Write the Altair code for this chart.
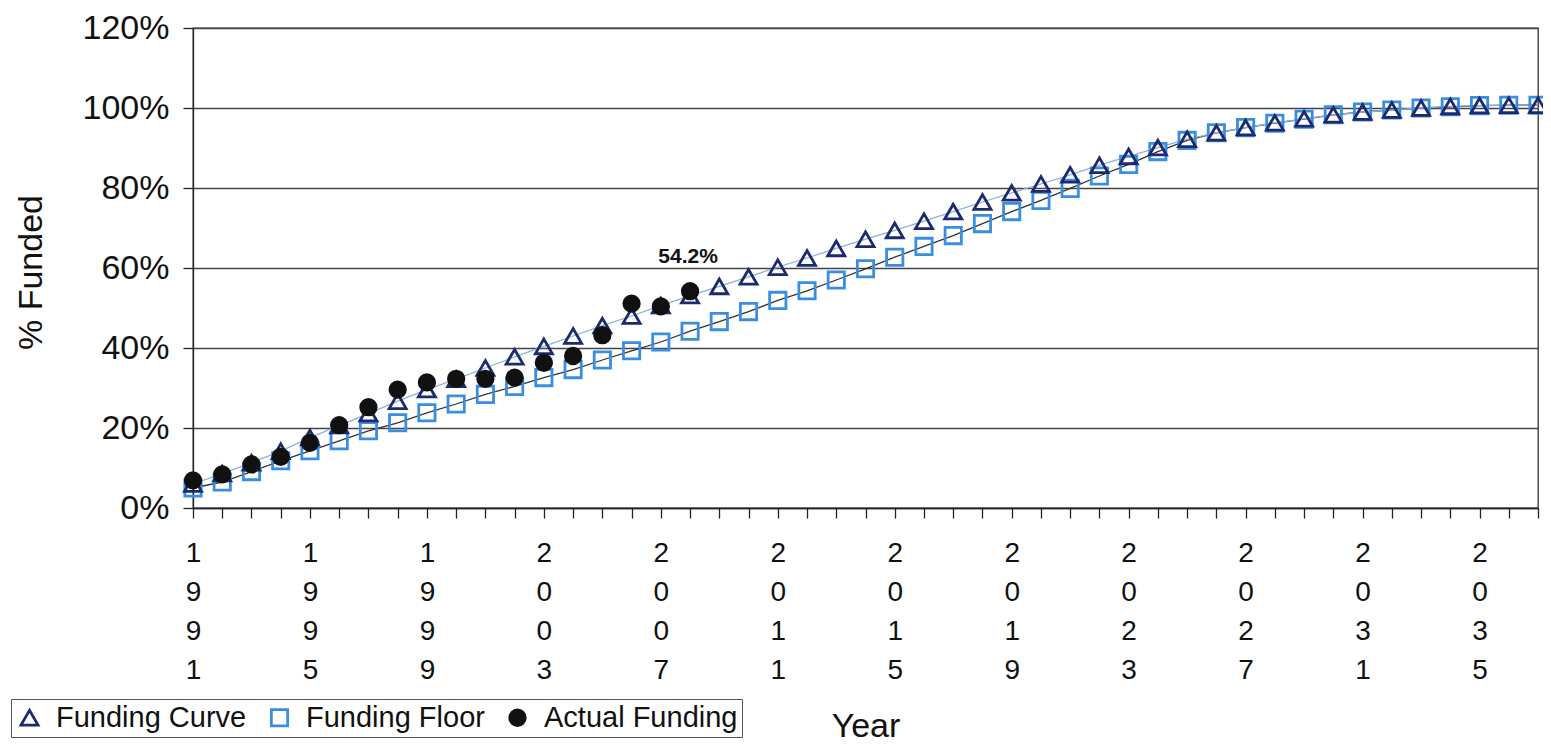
import altair as alt
import pandas as pd

years = list(range(1991, 2038))
funding_curve = [6.0, 8.6, 11.3, 14.2, 17.6, 20.6, 23.6, 26.7, 29.6, 32.2,
                 35.0, 37.8, 40.4, 43.0, 45.6, 48.0, 50.6, 53.1, 55.4, 57.8,
                 60.2, 62.5, 64.9, 67.2, 69.4, 71.7, 74.1, 76.5, 78.8, 81.0,
                 83.3, 85.7, 87.9, 90.1, 92.2, 93.8, 95.1, 96.3, 97.3, 98.3,
                 99.0, 99.5, 100.0, 100.4, 100.6, 100.7, 100.7]
funding_floor = [5.0, 6.5, 9.1, 11.8, 14.3, 16.8, 19.3, 21.3, 23.8, 26.0,
                 28.4, 30.4, 32.6, 34.6, 37.0, 39.3, 41.5, 44.2, 46.6, 49.1,
                 51.9, 54.3, 57.0, 59.8, 62.7, 65.4, 68.1, 71.1, 74.1, 76.9,
                 79.9, 83.0, 85.9, 89.1, 91.9, 93.8, 95.1, 96.2, 97.2, 98.3,
                 99.0, 99.5, 100.0, 100.3, 100.6, 100.7, 100.7]
actual_years = list(range(1991, 2009))
actual_funding = [6.9, 8.4, 10.9, 12.8, 16.3, 20.7, 25.2, 29.6, 31.4, 32.3,
                  32.3, 32.6, 36.3, 38.0, 43.2, 51.1, 50.4, 54.2]
series_names = ["Funding Curve", "Funding Floor", "Actual Funding"]
label_year = [2008]
label_value = [54.2]
label_text = ["54.2%"]

rows = []
for y, v in zip(years, funding_curve):
    rows.append({"Year": y, "Value": v / 100, "Series": series_names[0], "ord": 1})
for y, v in zip(years, funding_floor):
    rows.append({"Year": y, "Value": v / 100, "Series": series_names[1], "ord": 0})
for y, v in zip(actual_years, actual_funding):
    rows.append({"Year": y, "Value": v / 100, "Series": series_names[2], "ord": 2})
df = pd.DataFrame(rows)
df_label = pd.DataFrame({"Year": label_year,
                         "Value": [v / 100 for v in label_value],
                         "Text": label_text})

x_enc = alt.X("Year:Q",
              scale=alt.Scale(domain=[1991, 2037], nice=False, zero=False),
              axis=alt.Axis(values=years, format="d",
                            labelExpr="(datum.value - 1991) % 4 == 0 ? split(datum.label, '') : ''",
                            title="Year", grid=False))
y_enc = alt.Y("Value:Q",
              scale=alt.Scale(domain=[0, 1.2], nice=False),
              axis=alt.Axis(values=[0, 0.2, 0.4, 0.6, 0.8, 1.0, 1.2], format=".0%",
                            title="% Funded", grid=True))

line_curve = alt.Chart(df).transform_filter(
    alt.datum.Series == series_names[0]
).mark_line(color="#8fb0d8", strokeWidth=1.3).encode(x=x_enc, y=y_enc)

line_floor = alt.Chart(df).transform_filter(
    alt.datum.Series == series_names[1]
).mark_line(color="#333333", strokeWidth=1.3).encode(x=x_enc, y=y_enc)

points = alt.Chart(df).mark_point(strokeWidth=2.8, opacity=1, fillOpacity=1).encode(
    x=x_enc, y=y_enc,
    shape=alt.Shape("Series:N", scale=alt.Scale(domain=series_names,
                    range=["triangle-up", "square", "circle"]), title=None),
    stroke=alt.Stroke("Series:N", scale=alt.Scale(domain=series_names,
                      range=["#1c2a6e", "#3a8ee2", "#111111"]), title=None),
    fill=alt.Fill("Series:N", scale=alt.Scale(domain=series_names,
                  range=["transparent", "transparent", "#111111"]), title=None),
    size=alt.Size("Series:N", scale=alt.Scale(domain=series_names,
                  range=[290, 240, 300]), title=None),
    order=alt.Order("ord:Q"),
)

label = alt.Chart(df_label).mark_text(
    fontSize=21, fontWeight="bold", dy=-34, dx=-2, color="#111111"
).encode(x=x_enc, y=y_enc, text="Text:N")

chart = alt.layer(line_floor, line_curve, points, label).properties(
    width=1345, height=480,
    autosize=alt.AutoSizeParams(type="none"),
    padding={"left": 185, "top": 20, "right": 5, "bottom": 236},
    background="white",
).configure(
    font="Liberation Sans",
).configure_view(
    stroke="#333333", strokeWidth=1.3,
).configure_axis(
    domainColor="#222222", domainWidth=1.3,
    tickColor="#222222", tickWidth=1.3, tickSize=10,
    gridColor="#444444", gridWidth=1.3,
    labelColor="#111111", titleColor="#111111",
    titleFontWeight="normal",
).configure_axisX(
    labelFontSize=28, labelLineHeight=39, labelPadding=21, labelAngle=0,
    labelBaseline="top", labelFlush=False, labelOverlap=False,
    titleFontSize=34, titleBaseline="middle", titleY=218,
).configure_axisY(
    labelFontSize=34, labelPadding=14,
    titleFontSize=34, titleBaseline="middle", titleX=-162, titleY=244,
).configure_legend(
    orient="none", legendX=-182, legendY=671, direction="horizontal",
    labelFontSize=29, labelColor="#111111", symbolSize=260,
    symbolStrokeWidth=2.8, strokeColor="#555555", fillColor="white",
    padding=4, columnPadding=18, labelOffset=12, cornerRadius=0,
    labelLimit=400,
)

chart.save("out.html", embed_options={"renderer": "svg", "actions": False})
